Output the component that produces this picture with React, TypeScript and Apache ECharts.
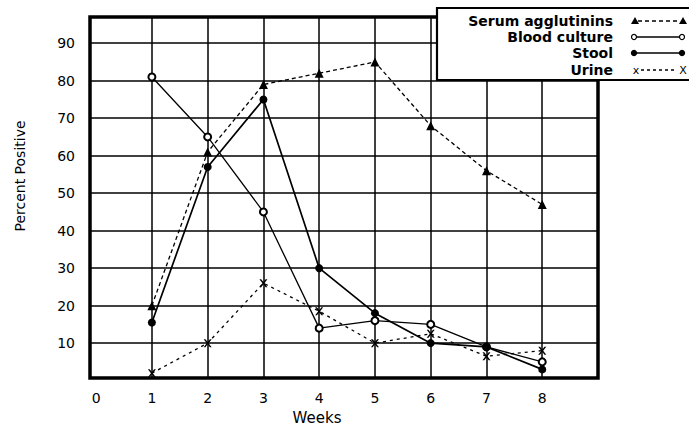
import React, { useEffect, useRef } from "react";
import * as echarts from "echarts";

const weeks = [1, 2, 3, 4, 5, 6, 7, 8];
const serumAgglutinins = [20, 61, 79, 82, 85, 68, 56, 47];
const bloodCulture = [81, 65, 45, 14, 16, 15, 9, 5];
const stool = [15.5, 57, 75, 30, 18, 10, 9, 3];
const urine = [2, 10, 26, 18.5, 10, 12.5, 6.5, 8];

const xTickLabels = [0, 1, 2, 3, 4, 5, 6, 7, 8];
const xGridValues = [1, 2, 3, 4, 5, 6, 7, 8];
const yTickLabels = [10, 20, 30, 40, 50, 60, 70, 80, 90];
const seriesNames = ["Serum agglutinins", "Blood culture", "Stool", "Urine"];
const xAxisTitle = "Weeks";
const yAxisTitle = "Percent Positive";

const X_SYMBOL =
  "path://M0,0L2.2,0L5,3.6L7.8,0L10,0L6.2,5L10,10L7.8,10L5,6.4L2.2,10L0,10L3.8,5Z";

const pair = (vals: number[]) => weeks.map((w, i) => [w, vals[i]]);

export default function App() {
  const ref = useRef<HTMLDivElement>(null);
  useEffect(() => {
    if (!ref.current) return;
    const chart = echarts.init(ref.current, undefined, { renderer: "svg" });
    const font = "DejaVu Sans";
    const lx = 613;
    const rows = [21, 37, 53, 70];
    const txt = (
      text: string,
      x: number,
      y: number,
      opts: Record<string, unknown> = {}
    ) => ({
      type: "text",
      z: 101,
      x,
      y,
      ...(opts.rotation !== undefined ? { rotation: opts.rotation } : {}),
      style: {
        text,
        fontFamily: font,
        fontSize: (opts.fontSize as number) ?? 14,
        fontWeight: (opts.fontWeight as string) ?? "normal",
        fill: "#000000",
        align: (opts.align as string) ?? "center",
        verticalAlign: "middle",
      },
    });
    const tri = (x: number, y: number) => ({
      type: "polygon",
      z: 101,
      shape: { points: [[x - 4, y + 3], [x + 4, y + 3], [x, y - 4]] },
      style: { fill: "#000" },
    });
    chart.setOption({
      animation: false,
      backgroundColor: "#fff",
      grid: {
        left: 90,
        right: 91,
        top: 17,
        bottom: 49,
        show: true,
        borderColor: "#000",
        borderWidth: 3.5,
      },
      xAxis: {
        type: "value",
        min: -0.11,
        max: 9,
        axisLine: { show: false },
        axisTick: { show: false, customValues: xGridValues },
        axisLabel: {
          customValues: xTickLabels,
          color: "#000",
          fontFamily: font,
          fontSize: 14,
          margin: 13,
        },
        splitLine: { show: true, lineStyle: { color: "#000", width: 1.5 } },
      },
      yAxis: {
        type: "value",
        min: 0.7,
        max: 97,
        axisLine: { show: false },
        axisTick: { show: false, customValues: yTickLabels },
        axisLabel: {
          customValues: yTickLabels,
          color: "#000",
          fontFamily: font,
          fontSize: 14,
          margin: 15,
        },
        splitLine: { show: true, lineStyle: { color: "#000", width: 1.5 } },
      },
      series: [
        {
          name: seriesNames[0],
          type: "line",
          data: pair(serumAgglutinins),
          symbol: "triangle",
          symbolSize: 9,
          itemStyle: { color: "#000" },
          lineStyle: { color: "#000", width: 1.3, type: [4, 3] },
        },
        {
          name: seriesNames[1],
          type: "line",
          data: pair(bloodCulture),
          symbol: "emptyCircle",
          symbolSize: 7,
          itemStyle: { color: "#000", borderWidth: 1.2 },
          lineStyle: { color: "#000", width: 1.3 },
        },
        {
          name: seriesNames[2],
          type: "line",
          data: pair(stool),
          symbol: "circle",
          symbolSize: 8,
          itemStyle: { color: "#000" },
          lineStyle: { color: "#000", width: 1.7 },
        },
        {
          name: seriesNames[3],
          type: "line",
          data: pair(urine),
          symbol: X_SYMBOL,
          symbolSize: 8,
          itemStyle: { color: "#000" },
          lineStyle: { color: "#000", width: 1.3, type: [3, 4] },
        },
      ],
      graphic: [
        txt(yAxisTitle, 20, 176, { rotation: Math.PI / 2 }),
        txt(xAxisTitle, 317, 418, { fontSize: 15 }),
        {
          type: "rect",
          z: 100,
          shape: { x: 437, y: 8, width: 270, height: 72 },
          style: { fill: "#fff", stroke: "#000", lineWidth: 2.2 },
        },
        ...seriesNames.map((name, i) =>
          txt(name, lx, rows[i], {
            fontSize: 14,
            fontWeight: "bold",
            align: "right",
          })
        ),
        {
          type: "line",
          z: 101,
          shape: { x1: 638, y1: rows[0], x2: 680, y2: rows[0] },
          style: { stroke: "#000", lineWidth: 1.3, lineDash: [4, 3] },
        },
        tri(635, rows[0]),
        tri(683, rows[0]),
        {
          type: "line",
          z: 101,
          shape: { x1: 636, y1: rows[1], x2: 680, y2: rows[1] },
          style: { stroke: "#000", lineWidth: 1.3 },
        },
        {
          type: "circle",
          z: 102,
          shape: { cx: 634, cy: rows[1], r: 2.5 },
          style: { fill: "#fff", stroke: "#000", lineWidth: 1.2 },
        },
        {
          type: "circle",
          z: 102,
          shape: { cx: 682, cy: rows[1], r: 2.5 },
          style: { fill: "#fff", stroke: "#000", lineWidth: 1.2 },
        },
        {
          type: "line",
          z: 101,
          shape: { x1: 634, y1: rows[2], x2: 682, y2: rows[2] },
          style: { stroke: "#000", lineWidth: 1.7 },
        },
        {
          type: "circle",
          z: 102,
          shape: { cx: 634, cy: rows[2], r: 3.2 },
          style: { fill: "#000" },
        },
        {
          type: "circle",
          z: 102,
          shape: { cx: 682, cy: rows[2], r: 3.2 },
          style: { fill: "#000" },
        },
        {
          type: "line",
          z: 101,
          shape: { x1: 641, y1: rows[3], x2: 677, y2: rows[3] },
          style: { stroke: "#000", lineWidth: 1.3, lineDash: [3, 3] },
        },
        txt("x", 636, rows[3], { fontSize: 11 }),
        txt("X", 683, rows[3], { fontSize: 11 }),
      ],
    });
    return () => chart.dispose();
  }, []);
  return (
    <div
      ref={ref}
      style={{ position: "fixed", left: 0, top: 0, width: 689, height: 427 }}
    />
  );
}
